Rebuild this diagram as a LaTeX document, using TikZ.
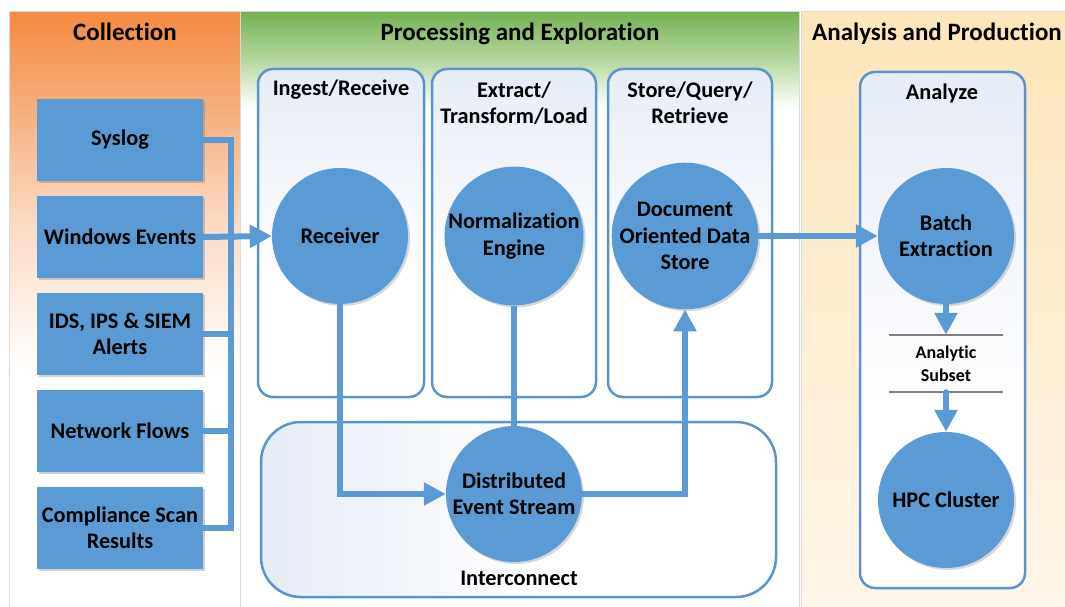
\documentclass[tikz,border=0pt]{standalone}
\usepackage{fontspec}
\setmainfont{Carlito}[Ligatures=NoCommon]
\usetikzlibrary{arrows.meta,shadows,calc}
\definecolor{boxblue}{HTML}{5B9BD5}
\definecolor{edgeblue}{HTML}{5B93CF}
\definecolor{orA}{HTML}{F48B41}
\definecolor{orB}{HTML}{F6AE7C}
\definecolor{orC}{HTML}{FBDCC6}
\definecolor{grA}{HTML}{74B153}
\definecolor{grB}{HTML}{B5D89E}
\definecolor{yeA}{HTML}{FDE6B9}
\definecolor{yeB}{HTML}{FEF6EA}
\definecolor{panelblue}{HTML}{E6ECF7}
\definecolor{sepgray}{HTML}{808080}
\pgfdeclareverticalshading{collshade}{100bp}{color(0bp)=(white); color(45bp)=(white); color(57bp)=(orC); color(67bp)=(orB); color(75bp)=(orA); color(100bp)=(orA)}
\pgfdeclareverticalshading{procshade}{100bp}{color(0bp)=(white); color(67bp)=(white); color(71bp)=(grB); color(75bp)=(grA); color(100bp)=(grA)}
\pgfdeclareverticalshading{subshade}{100bp}{color(0bp)=(white); color(42bp)=(white); color(75bp)=(panelblue); color(100bp)=(panelblue)}
\pgfdeclarehorizontalshading{intshade}{100bp}{color(0bp)=(panelblue); color(25bp)=(panelblue); color(52bp)=(white); color(100bp)=(white)}
\tikzset{
  title/.style={font=\fontsize{25}{30}\selectfont\bfseries, inner sep=0pt, anchor=base},
  head/.style={font=\fontsize{22.3}{26.5}\selectfont\bfseries, align=center, inner sep=0pt},
  srcbox/.style={fill=boxblue, minimum width=166pt, minimum height=82pt, inner sep=0pt, align=center,
     font=\fontsize{22.3}{26.5}\selectfont\bfseries,
     drop shadow={shadow xshift=2pt, shadow yshift=-2pt, opacity=0.3, fill=black!60}},
  circ/.style={circle, fill=boxblue, minimum size=136pt, inner sep=0pt, align=center,
     font=\fontsize{22.3}{26.5}\selectfont\bfseries,
     drop shadow={shadow xshift=2pt, shadow yshift=-2pt, opacity=0.25, fill=black!60}},
  subpanel/.style={draw=edgeblue, line width=2.5pt, rounded corners=15pt, shading=subshade},
  flow/.style={draw=boxblue, line width=6pt},
  flowarr/.style={flow, -{Triangle[length=22pt,width=22pt]}},
  sep/.style={draw=sepgray, line width=1.5pt},
}
\begin{document}
\begin{tikzpicture}[x=1pt,y=-1pt]
\useasboundingbox (0,0) rectangle (1065,607);
\clip (0,0) rectangle (1065,607);
\fill[white] (0,0) rectangle (1065,607);
% background panels
\shade[shading=collshade] (9,12) rectangle (240,610);
\draw[black!15, line width=1pt] (9,12) rectangle (240,610);
\shade[shading=procshade] (240,12) rectangle (799,610);
\draw[black!15, line width=1pt] (240,12) rectangle (799,610);
\shade[top color=yeA, bottom color=yeB] (801,12) rectangle (1070,610);
\draw[black!15, line width=1pt] (801,12) rectangle (1070,610);
% titles
\node[title] (tcoll) at (125,41) {Collection};
\node[title] (tproc) at (520,41) {Processing and Exploration};
\node[title, anchor=base west] (tana) at (812,41) {Analysis and Production};
% sub panels
\path[subpanel] (258,69) rectangle (424,397);
\path[subpanel] (432,69) rectangle (596,397);
\path[subpanel] (608,69) rectangle (772,397);
\path[subpanel] (860,72) rectangle (1025,588);
\path[draw=edgeblue, line width=2.5pt, rounded corners=40pt, shading=intshade] (261,422) rectangle (776,597);
% headers
\node[head] (hing) at (341,90) {Ingest/Receive};
\node[head] (hetl) at (514,103) {Extract/\\Transform/Load};
\node[head] (hsto) at (690,103) {Store/Query/\\Retrieve};
\node[head] (hana) at (942,93) {Analyze};
\node[head] (hint) at (519,578) {Interconnect};
% source boxes
\node[srcbox] (syslog) at (120,140) {Syslog};
\node[srcbox] (win) at (120,237) {Windows Events};
\node[srcbox] (ids) at (120,334) {IDS, IPS \& SIEM\\Alerts};
\node[srcbox] (net) at (120,431) {Network Flows};
\node[srcbox] (comp) at (120,528) {Compliance Scan\\Results};
\coordinate (bustop) at (231,140);
\coordinate (busbot) at (231,528);
% circles
\node[circ] (recv) at (340,236) {Receiver};
\node[circ] (norm) at (514,236) {Normalization\\Engine};
\node[circ] (doc) at (685,236) {Document\\Oriented Data\\Store};
\node[circ] (dist) at (514,494) {Distributed\\Event Stream};
\node[circ] (batch) at (946,236) {Batch\\Extraction};
\node[circ] (hpc) at (946,500) {HPC Cluster};
\node[inner sep=0pt, minimum height=57pt, text width=113pt, align=center,
      font=\fontsize{18}{23}\selectfont\bfseries] (subset) at (946,363.5) {Analytic\\Subset};
\draw[sep] (subset.north west) -- (subset.north east);
\draw[sep] (subset.south west) -- (subset.south east);
% connectors
\draw[flow] (syslog.east) -- (bustop) -- (busbot) -- (comp.east);
\draw[flow] (ids.east) -- (ids.east -| bustop);
\draw[flow] (net.east) -- (net.east -| bustop);
\draw[flowarr] (win.east) -- (recv.west);
\draw[flowarr] (recv.south) |- (dist.west);
\draw[flow] (norm.south) -- (dist.north);
\draw[flowarr] (dist.east) -| (doc.south);
\draw[flowarr] (doc.east) -- (batch.west);
\draw[flowarr] (batch.south) -- (subset.north);
\draw[flowarr, line cap=round] (subset.south) -- (hpc.north);
\end{tikzpicture}
\end{document}
